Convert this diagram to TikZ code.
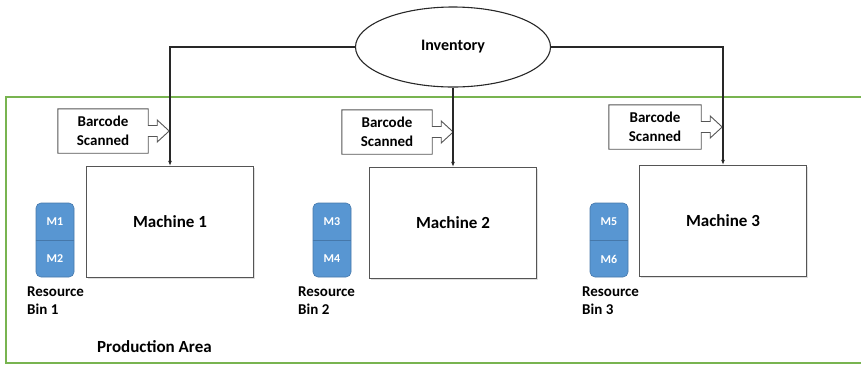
\documentclass[tikz,border=0pt]{standalone}
\usepackage{fontspec}
\setmainfont{Carlito}
\usepackage{tikz}
\usetikzlibrary{shapes,arrows.meta,positioning,calc,shadows}

\definecolor{binblue}{RGB}{88,150,210}
\definecolor{binedge}{RGB}{70,120,170}
\definecolor{areagreen}{RGB}{120,180,80}
\definecolor{edgegray}{RGB}{85,85,85}
\definecolor{linegray}{RGB}{40,40,40}

\begin{document}
\begin{tikzpicture}[x=1pt, y=-1pt,
    machine/.style={draw=edgegray, line width=1.3pt, fill=white,
        minimum width=167pt, minimum height=111pt, inner sep=0pt,
        font=\fontsize{17}{20}\selectfont\bfseries,
        drop shadow={shadow xshift=1.2pt, shadow yshift=-1.2pt, opacity=0.25}},
    store/.style={draw=linegray, line width=1.1pt, ellipse, fill=white,
        minimum width=195pt, minimum height=80pt, inner sep=0pt,
        font=\fontsize{16}{19}\selectfont\bfseries},
    scanbox/.style={minimum width=90pt, minimum height=44pt, inner sep=0pt,
        align=center, font=\fontsize{15}{19}\selectfont\bfseries},
    scanline/.style={draw=edgegray, line width=0.9pt, line join=miter},
    bin/.style={draw=binedge, line width=0.6pt, fill=binblue, rounded corners=5pt,
        minimum width=38pt, minimum height=74pt, inner sep=0pt},
    binitem/.style={text=white, inner sep=0pt, font=\fontsize{12}{14}\selectfont\bfseries},
    binname/.style={anchor=west, align=left, inner sep=0pt,
        font=\fontsize{15}{18}\selectfont\bfseries},
    link/.style={draw=linegray, line width=1.1pt, -{Latex[length=5pt,width=4pt]}}]

    \useasboundingbox (0,0) rectangle (861,365);

    % production area frame (open at the right)
    \draw[areagreen, line width=1.4pt] (861,97) -- (6,97) -- (6,363) -- (861,363);
    \node[anchor=west, inner sep=0pt, font=\fontsize{17}{20}\selectfont\bfseries] (area) at (97,347) {Production Area};

    % inventory
    \node[store] (inv) at (453,47) {Inventory};

    % machines
    \node[machine] (mach1) at (170,222) {Machine 1};
    \node[machine] (mach2) at (453,223) {Machine 2};
    \node[machine] (mach3) at (723,221) {Machine 3};

    % barcode scanners
    \node[scanbox] (scan1) at (103,131) {Barcode\\Scanned};
    \node[scanbox] (scan2) at (387,132) {Barcode\\Scanned};
    \node[scanbox, minimum width=92pt] (scan3) at (655,127) {Barcode\\Scanned};
    \foreach \s in {scan1,scan2,scan3}
        \draw[scanline] (\s.north west) -- (\s.north east) -- ([yshift=5.5pt]\s.east)
            -- ++(9pt,0) -- ++(0,5.5pt) -- ++(12pt,-11pt) -- ++(-12pt,-11pt)
            -- ++(0,5.5pt) -- ++(-9pt,0) -- (\s.south east) -- (\s.south west) -- cycle;

    % resource bins
    \node[bin] (bin1) at (55,240) {};
    \node[bin] (bin2) at (332,240) {};
    \node[bin] (bin3) at (609,240) {};
    \draw[binedge, line width=1pt] (bin1.west) -- (bin1.east);
    \draw[binedge, line width=1pt] (bin2.west) -- (bin2.east);
    \draw[binedge, line width=1pt] (bin3.west) -- (bin3.east);
    \node[binitem] (m1) at (55,222) {M1};
    \node[binitem] (m2) at (55,259) {M2};
    \node[binitem] (m3) at (332,222) {M3};
    \node[binitem] (m4) at (332,259) {M4};
    \node[binitem] (m5) at (609,222) {M5};
    \node[binitem] (m6) at (609,259) {M6};
    \node[binname] (res1) at (27,301) {Resource\\Bin 1};
    \node[binname] (res2) at (298,301) {Resource\\Bin 2};
    \node[binname] (res3) at (582,301) {Resource\\Bin 3};

    % inventory feeds
    \draw[link] (inv.west) -| (mach1.north);
    \draw[link] (inv.south) -- (mach2.north);
    \draw[link] (inv.east) -| (mach3.north);
\end{tikzpicture}
\end{document}
